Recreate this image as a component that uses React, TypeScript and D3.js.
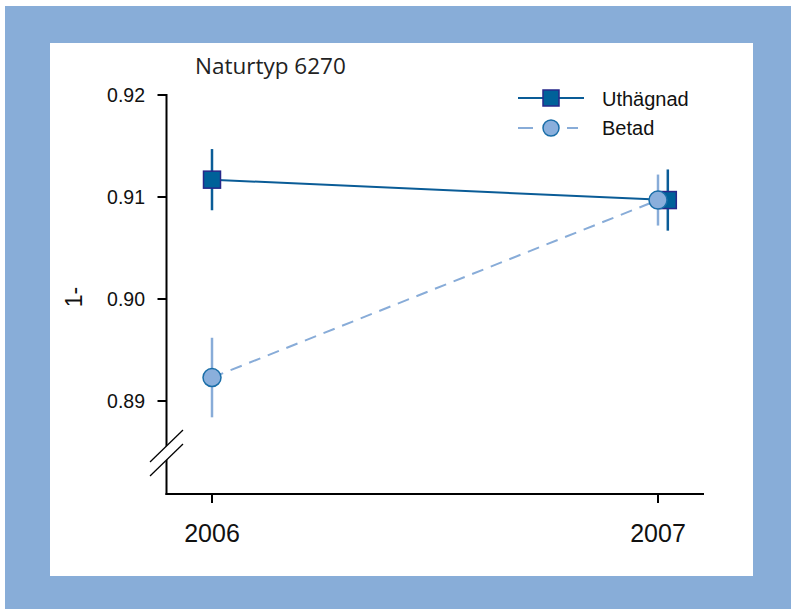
import React from "react";
import * as d3 from "d3";

const years = [2006, 2007];
const xTicks = ["2006", "2007"];
const yTicks = [0.89, 0.9, 0.91, 0.92];
const yTickLabels = ["0.89", "0.90", "0.91", "0.92"];

const seriesNames = ["Uthägnad", "Betad"];
const uthagnadX = [2006, 2007.022];
const uthagnadMean = [0.9117, 0.9097];
const uthagnadErr = [0.003, 0.003];
const betadX = [2006, 2007];
const betadMean = [0.8923, 0.9097];
const betadErr = [0.0039, 0.0025];

const title = "Naturtyp 6270";
const yLabel = "1-";

const W = 791;
const H = 609;

export default function App() {
  const x = d3.scaleLinear().domain([2006, 2007]).range([212, 658]);
  const y = d3.scaleLinear().domain([0.89, 0.92]).range([401, 95]);
  const axisLeft = 166.5;
  const axisRight = 704;
  const axisBottom = 494;
  const axisTop = y(0.92);

  const dark = "#0a5c97";
  const darkFill = "#006199";
  const darkStroke = "#27288a";
  const light = "#88acd8";
  const lightFill = "#8aafdc";
  const lightStroke = "#1a6ea8";

  const line = d3
    .line<[number, number]>()
    .x((d) => x(d[0]))
    .y((d) => y(d[1]));

  const uData: [number, number][] = uthagnadX.map((v, i) => [v, uthagnadMean[i]]);
  const bData: [number, number][] = betadX.map((v, i) => [v, betadMean[i]]);

  const sq = 17;
  const r = 9;

  // axis break
  const brkY = y(0.8849);
  const slash = (dy: number) => ({ x1: axisLeft - 16.5, y1: brkY + dy + 16, x2: axisLeft + 16.5, y2: brkY + dy - 16 });
  const s1 = slash(-7);
  const s2 = slash(7);

  const tickFont = "'Liberation Sans', Arial, sans-serif";

  return (
    <svg width={W} height={H} style={{ position: "absolute", left: 0, top: 0 }}>
      <rect x={5} y={6} width={W - 5} height={H - 6} fill="#88add8" />
      <rect x={50} y={43} width={703} height={533} fill="#ffffff" />

      <text x={195} y={74} fontFamily="'Open Sans', sans-serif" fontSize={22.5} fill="#222">
        {title}
      </text>

      {/* axes */}
      <line x1={axisLeft} y1={axisTop - 1} x2={axisLeft} y2={axisBottom + 1} stroke="#000" strokeWidth={2} />
      <line x1={axisLeft - 1} y1={axisBottom} x2={axisRight} y2={axisBottom} stroke="#000" strokeWidth={2} />
      {yTicks.map((t, i) => (
        <g key={"yt" + i}>
          <line x1={axisLeft - 9} x2={axisLeft} y1={y(t)} y2={y(t)} stroke="#000" strokeWidth={2} />
          <text
            x={145}
            y={y(t) + 7}
            textAnchor="end"
            fontFamily={tickFont}
            fontSize={19.5}
            fill="#111"
          >
            {yTickLabels[i]}
          </text>
        </g>
      ))}
      {years.map((yr, i) => (
        <g key={"xt" + i}>
          <line x1={x(yr)} x2={x(yr)} y1={axisBottom} y2={axisBottom + 9} stroke="#000" strokeWidth={2} />
          <text x={x(yr)} y={542} textAnchor="middle" fontFamily={tickFont} fontSize={25} fill="#111">
            {xTicks[i]}
          </text>
        </g>
      ))}

      {/* axis break */}
      <polygon
        points={`${s1.x1},${s1.y1} ${s1.x2},${s1.y2} ${s2.x2},${s2.y2} ${s2.x1},${s2.y1}`}
        fill="#fff"
      />
      <line {...s1} stroke="#000" strokeWidth={1.3} />
      <line {...s2} stroke="#000" strokeWidth={1.3} />

      <text
        transform={`translate(82,297) rotate(-90)`}
        textAnchor="middle"
        fontFamily={tickFont}
        fontSize={23}
        fill="#111"
      >
        {yLabel}
      </text>

      {/* Uthägnad */}
      <path d={line(uData) || ""} fill="none" stroke={dark} strokeWidth={2} />
      {uData.map((d, i) => (
        <line
          key={"ue" + i}
          x1={x(d[0])}
          x2={x(d[0])}
          y1={y(d[1] + uthagnadErr[i])}
          y2={y(d[1] - uthagnadErr[i])}
          stroke={dark}
          strokeWidth={2.5}
        />
      ))}
      {uData.map((d, i) => (
        <rect
          key={"um" + i}
          x={x(d[0]) - sq / 2}
          y={y(d[1]) - sq / 2}
          width={sq}
          height={sq}
          fill={darkFill}
          stroke={darkStroke}
          strokeWidth={1.5}
        />
      ))}

      {/* Betad */}
      <path d={line(bData) || ""} fill="none" stroke={light} strokeWidth={2} strokeDasharray="12,8" />
      {bData.map((d, i) => (
        <line
          key={"be" + i}
          x1={x(d[0])}
          x2={x(d[0])}
          y1={y(d[1] + betadErr[i])}
          y2={y(d[1] - betadErr[i])}
          stroke={light}
          strokeWidth={2.5}
        />
      ))}
      {bData.map((d, i) => (
        <circle key={"bm" + i} cx={x(d[0])} cy={y(d[1])} r={r} fill={lightFill} stroke={lightStroke} strokeWidth={1.5} />
      ))}

      {/* legend */}
      <g>
        <line x1={518} x2={584} y1={98} y2={98} stroke={dark} strokeWidth={2} />
        <rect x={551 - 8} y={98 - 8} width={16} height={16} fill={darkFill} stroke={darkStroke} strokeWidth={1.5} />
        <text x={602} y={106} fontFamily={tickFont} fontSize={20} fill="#111">
          {seriesNames[0]}
        </text>
        <line x1={518} x2={533} y1={128} y2={128} stroke={light} strokeWidth={2} />
        <line x1={567} x2={578} y1={128} y2={128} stroke={light} strokeWidth={2} />
        <circle cx={551} cy={128} r={8} fill={lightFill} stroke={lightStroke} strokeWidth={1.5} />
        <text x={602} y={135} fontFamily={tickFont} fontSize={20} fill="#111">
          {seriesNames[1]}
        </text>
      </g>
    </svg>
  );
}
